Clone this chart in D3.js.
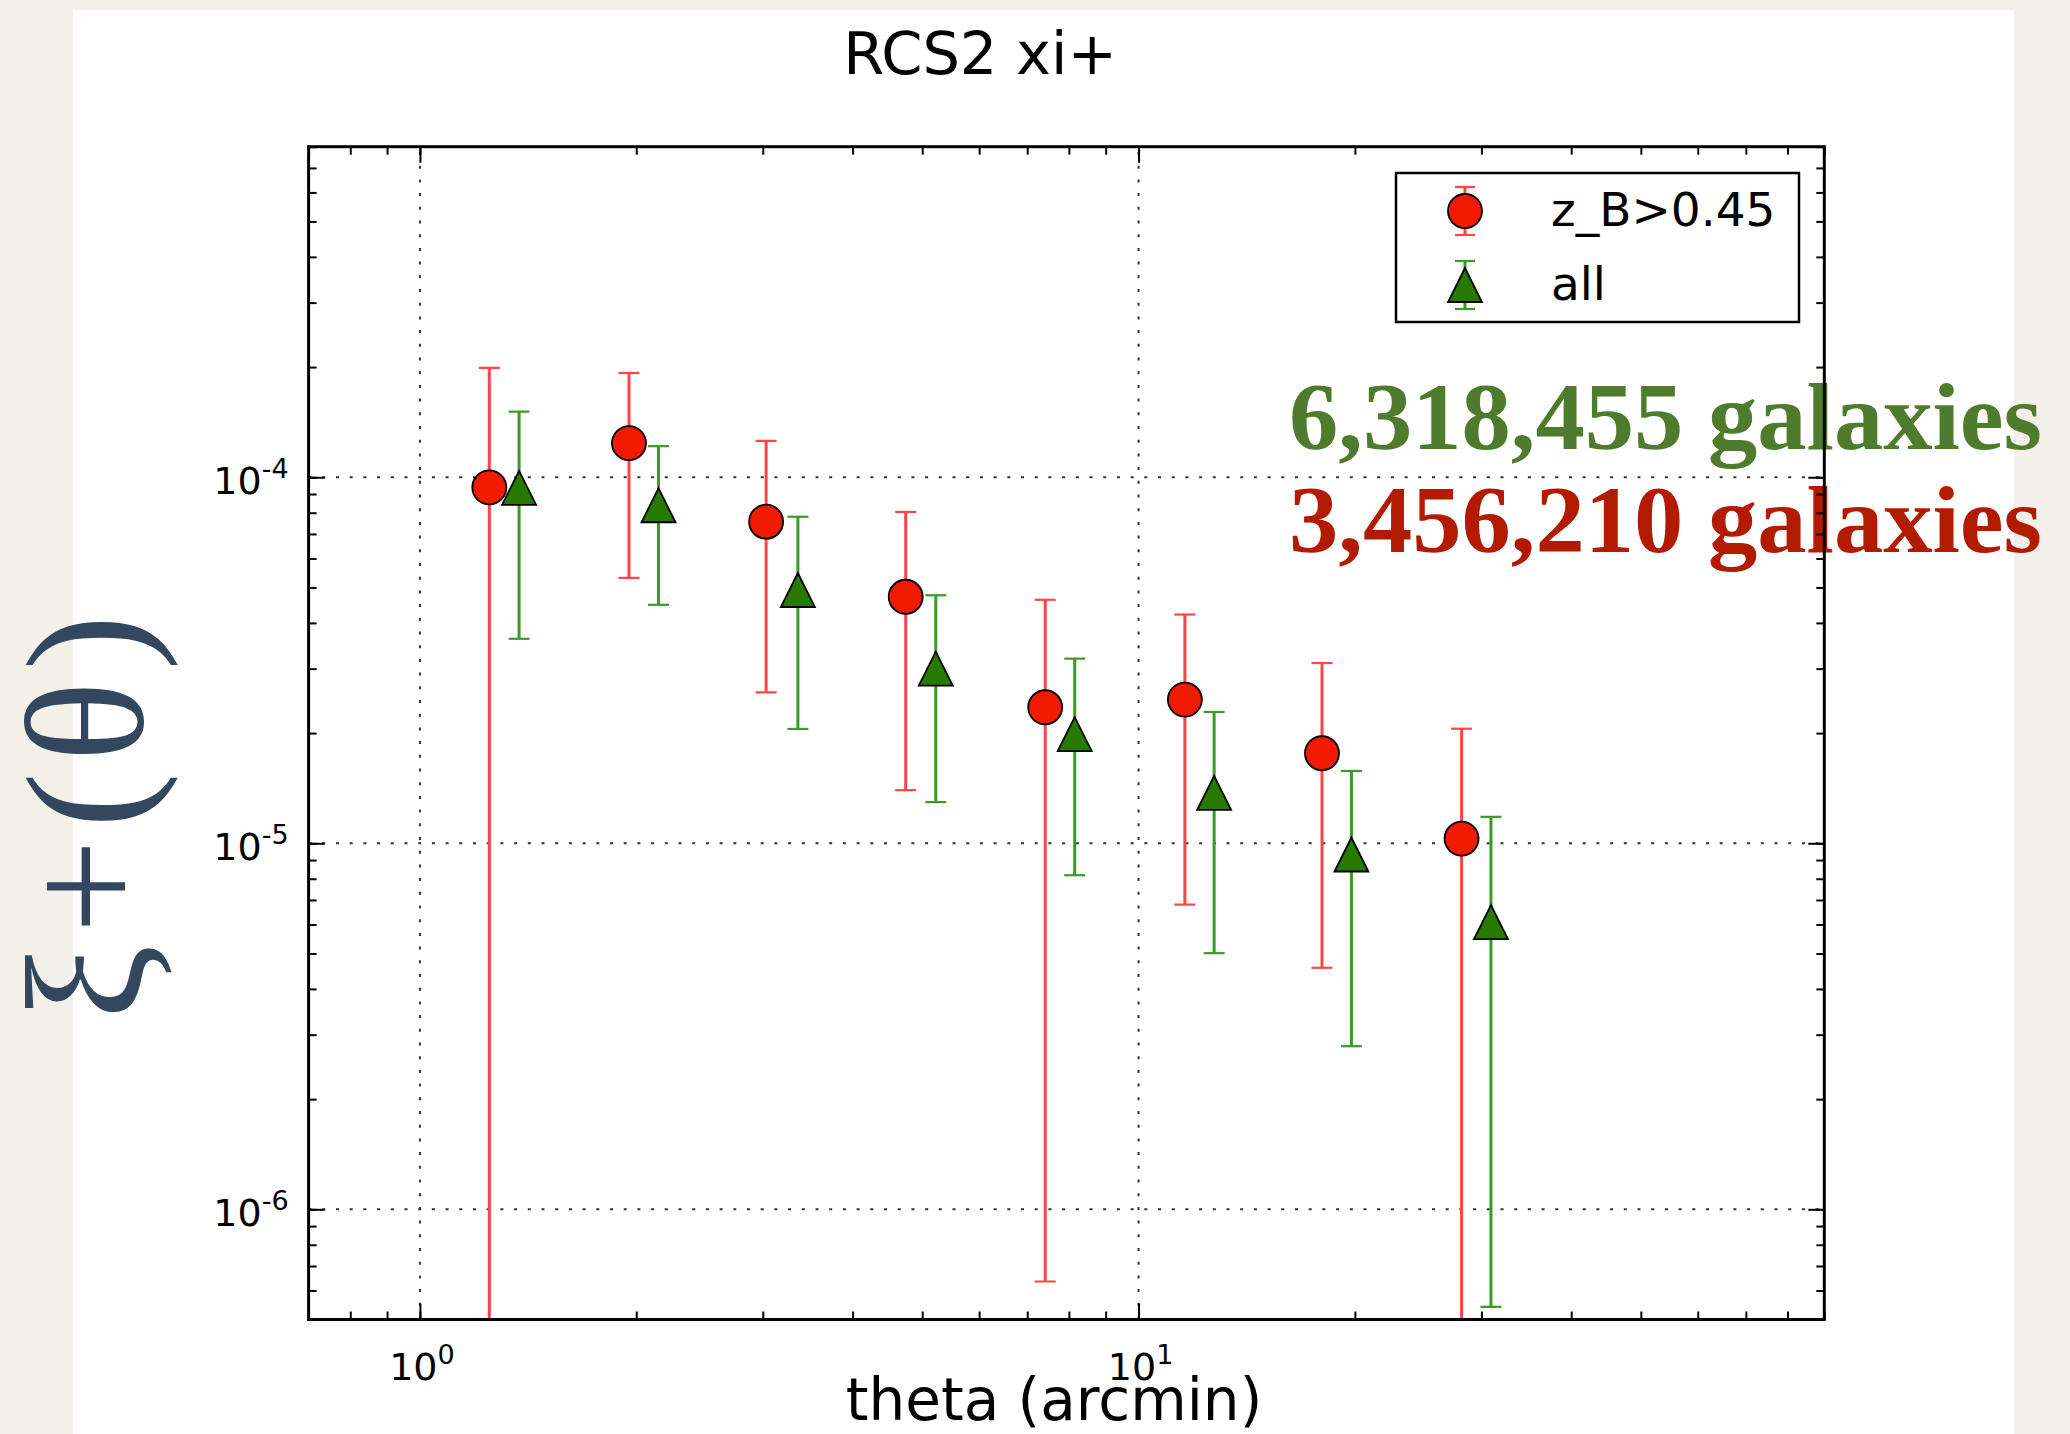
<!DOCTYPE html>
<html>
<head>
<meta charset="utf-8">
<script src="https://cdn.jsdelivr.net/npm/d3@7"></script>
<style>
	body { margin: 0; background: #f3f0ea; }
	svg { display: block; }
</style>
</head>
<body>
<svg id="chart"></svg>
<script>

// theta (arcmin) and xi+ for the z_B>0.45 sample (red circles)
const thetaRed = [1.249, 1.954, 3.032, 4.742, 7.415, 11.60, 18.00, 28.15];
const xiRed    = [9.38e-5, 1.239e-4, 7.56e-5, 4.715e-5, 2.353e-5, 2.47e-5, 1.762e-5, 1.03e-5];
const xiRedHi  = [1.99e-4, 1.927e-4, 1.257e-4, 8.04e-5, 4.626e-5, 4.217e-5, 3.108e-5, 2.056e-5];
// null = lower end of the bar falls below zero (off the log axis)
const xiRedLo  = [null, 5.31e-5, 2.585e-5, 1.397e-5, 6.35e-7, 6.80e-6, 4.57e-6, null];

// theta and xi+ for all galaxies (green triangles)
const thetaAll = [1.374, 2.148, 3.357, 5.222, 8.15, 12.74, 19.78, 30.93];
const xiAll    = [9.35e-5, 8.386e-5, 4.92e-5, 3.0e-5, 1.986e-5, 1.373e-5, 9.32e-6, 6.09e-6];
const xiAllHi  = [1.511e-4, 1.216e-4, 7.80e-5, 4.76e-5, 3.195e-5, 2.284e-5, 1.576e-5, 1.181e-5];
const xiAllLo  = [3.62e-5, 4.483e-5, 2.053e-5, 1.296e-5, 8.18e-6, 5.01e-6, 2.79e-6, 5.41e-7];

const xDomain = [0.7, 90];
const yDomain = [5e-7, 8e-4];
const xMajor = [1, 10];
const yMajor = [1e-6, 1e-5, 1e-4];

const seriesNames = ["z_B>0.45", "all"];
const countLabels = ["6,318,455 galaxies", "3,456,210 galaxies"];
const titleText = "RCS2 xi+";
const xLabelText = "theta (arcmin)";
const yLabelText = "ξ+(θ)";

const W = 2070, H = 1434;
const svg = d3.select('#chart').attr('width', W).attr('height', H);

//white slide panel
svg.append('rect')
	.attr('x', 73).attr('y', 10)
	.attr('width', 1941).attr('height', H - 10)
	.attr('fill', '#ffffff');

const x = d3.scaleLog().domain(xDomain).range([308.6, 1824.3]);
const y = d3.scaleLog().domain(yDomain).range([1319.5, 146.7]);
const [x0, x1] = x.range();
const [y0, y1] = y.range();

const mpl = "'DejaVu Sans', sans-serif";

//grid lines at the major ticks
const grid = svg.append('g')
	.attr('stroke', '#333')
	.attr('stroke-width', 2)
	.attr('stroke-dasharray', '3,10.7');
grid.selectAll('.gx').data(xMajor).join('line')
	.attr('x1', d => x(d)).attr('x2', d => x(d))
	.attr('y1', y0).attr('y2', y1);
grid.selectAll('.gy').data(yMajor).join('line')
	.attr('x1', x0).attr('x2', x1)
	.attr('y1', d => y(d)).attr('y2', d => y(d));

svg.append('clipPath').attr('id', 'plotclip')
	.append('rect')
	.attr('x', x0).attr('y', y1)
	.attr('width', x1 - x0).attr('height', y0 - y1);

const plot = svg.append('g').attr('clip-path', 'url(#plotclip)');

function drawErrorbars(g, xs, lo, hi, color) {
	const capW = 10.5;
	const bars = g.append('g').attr('stroke', color);
	xs.forEach(function(t, i) {
		const cx = x(t);
		const top = y(hi[i]);
		const bot = lo[i] === null ? y0 + 10 : y(lo[i]);
		bars.append('line')
			.attr('x1', cx).attr('x2', cx)
			.attr('y1', top).attr('y2', bot)
			.attr('stroke-width', 3);
		bars.append('line')
			.attr('x1', cx - capW).attr('x2', cx + capW)
			.attr('y1', top).attr('y2', top)
			.attr('stroke-width', 2.2);
		if (lo[i] !== null) {
			bars.append('line')
				.attr('x1', cx - capW).attr('x2', cx + capW)
				.attr('y1', bot).attr('y2', bot)
				.attr('stroke-width', 2.2);
		}
	});
}

function circleMarker(g, cx, cy, fill) {
	g.append('circle')
		.attr('cx', cx).attr('cy', cy).attr('r', 17)
		.attr('fill', fill)
		.attr('stroke', '#000')
		.attr('stroke-width', 1.8);
}

function triangleMarker(g, cx, cy, fill) {
	const s = 17;
	g.append('path')
		.attr('d', `M${cx},${cy - s}L${cx - s},${cy + s}L${cx + s},${cy + s}Z`)
		.attr('fill', fill)
		.attr('stroke', '#000')
		.attr('stroke-width', 1.8)
		.attr('stroke-linejoin', 'miter');
}

const redBar = '#ff4545', redFill = '#f21a00';
const greenBar = '#3b9a25', greenFill = '#267a00';

//z_B>0.45 series
drawErrorbars(plot, thetaRed, xiRedLo, xiRedHi, redBar);
thetaRed.forEach((t, i) => circleMarker(plot, x(t), y(xiRed[i]), redFill));

//all galaxies series
drawErrorbars(plot, thetaAll, xiAllLo, xiAllHi, greenBar);
thetaAll.forEach((t, i) => triangleMarker(plot, x(t), y(xiAll[i]), greenFill));

//legend
const legend = svg.append('g');
legend.append('rect')
	.attr('x', 1396).attr('y', 173)
	.attr('width', 403).attr('height', 149)
	.attr('fill', '#fff')
	.attr('stroke', '#000')
	.attr('stroke-width', 2.5);
const legRows = [211, 285];
[[redBar, circleMarker, redFill], [greenBar, triangleMarker, greenFill]].forEach(function(e, i) {
	const ly = legRows[i];
	const lg = legend.append('g').attr('stroke', e[0]);
	lg.append('line').attr('x1', 1465).attr('x2', 1465).attr('y1', ly - 24).attr('y2', ly + 24).attr('stroke-width', 3);
	lg.append('line').attr('x1', 1455).attr('x2', 1475).attr('y1', ly - 24).attr('y2', ly - 24).attr('stroke-width', 2.2);
	lg.append('line').attr('x1', 1455).attr('x2', 1475).attr('y1', ly + 24).attr('y2', ly + 24).attr('stroke-width', 2.2);
	e[1](legend, 1465, ly, e[2]);
	legend.append('text')
		.attr('x', 1551).attr('y', ly + 15)
		.attr('font-family', mpl)
		.attr('font-size', 47)
		.attr('fill', '#000')
		.text(seriesNames[i]);
});

//galaxy counts written over the plot
const counts = svg.append('g')
	.attr('font-family', "'Liberation Serif', serif")
	.attr('font-weight', 'bold')
	.attr('font-size', 95);
counts.append('text')
	.attr('x', 1289).attr('y', 449)
	.attr('textLength', 753).attr('lengthAdjust', 'spacingAndGlyphs')
	.attr('fill', '#4f7c2c')
	.text(countLabels[0]);
counts.append('text')
	.attr('x', 1289).attr('y', 552)
	.attr('textLength', 753).attr('lengthAdjust', 'spacingAndGlyphs')
	.attr('fill', '#b21b00')
	.text(countLabels[1]);

//ticks on all four sides, pointing inwards
function ticks(gen, tx, ty, scale, vals, len) {
	const g = svg.append('g')
		.attr('transform', `translate(${tx},${ty})`)
		.call(gen(scale).tickValues(vals).tickSize(-len).tickFormat(''));
	g.select('.domain').remove();
	g.selectAll('.tick line').attr('stroke', '#000').attr('stroke-width', 2);
}
ticks(d3.axisBottom, 0, y0, x, x.ticks(), 8);
ticks(d3.axisTop, 0, y1, x, x.ticks(), 8);
ticks(d3.axisBottom, 0, y0, x, xMajor, 16);
ticks(d3.axisTop, 0, y1, x, xMajor, 16);
ticks(d3.axisLeft, x0, 0, y, y.ticks(), 8);
ticks(d3.axisRight, x1, 0, y, y.ticks(), 8);
ticks(d3.axisLeft, x0, 0, y, yMajor, 16);
ticks(d3.axisRight, x1, 0, y, yMajor, 16);

//axes frame
svg.append('rect')
	.attr('x', x0).attr('y', y1)
	.attr('width', x1 - x0).attr('height', y0 - y1)
	.attr('fill', 'none')
	.attr('stroke', '#000')
	.attr('stroke-width', 3);

//power-of-ten tick labels
function powLabel(sel) {
	sel.each(function(d) {
		const t = d3.select(this);
		t.append('tspan').text('10');
		t.append('tspan')
			.attr('dy', -16)
			.attr('font-size', 27)
			.text(String(Math.round(Math.log10(d))));
	});
}
svg.append('g').selectAll('text').data(xMajor).join('text')
	.attr('x', d => x(d) + 2).attr('y', y0 + 60)
	.attr('text-anchor', 'middle')
	.attr('font-family', mpl).attr('font-size', 38).attr('fill', '#000')
	.call(powLabel);
svg.append('g').selectAll('text').data(yMajor).join('text')
	.attr('x', x0 - 20).attr('y', d => y(d) + 17)
	.attr('text-anchor', 'end')
	.attr('font-family', mpl).attr('font-size', 38).attr('fill', '#000')
	.call(powLabel);

//title and axis labels
svg.append('text')
	.attr('x', 980).attr('y', 74)
	.attr('text-anchor', 'middle')
	.attr('font-family', mpl).attr('font-size', 59).attr('fill', '#000')
	.text(titleText);
svg.append('text')
	.attr('x', 1054).attr('y', 1420)
	.attr('text-anchor', 'middle')
	.attr('font-family', mpl).attr('font-size', 58).attr('fill', '#000')
	.text(xLabelText);
svg.append('text')
	.attr('transform', 'translate(142,817) rotate(-90)')
	.attr('text-anchor', 'middle')
	.attr('font-family', "'Liberation Serif', serif")
	.attr('font-size', 168)
	.attr('textLength', 405)
	.attr('lengthAdjust', 'spacing')
	.attr('fill', '#33485f')
	.text(yLabelText);

</script>
</body>
</html>
